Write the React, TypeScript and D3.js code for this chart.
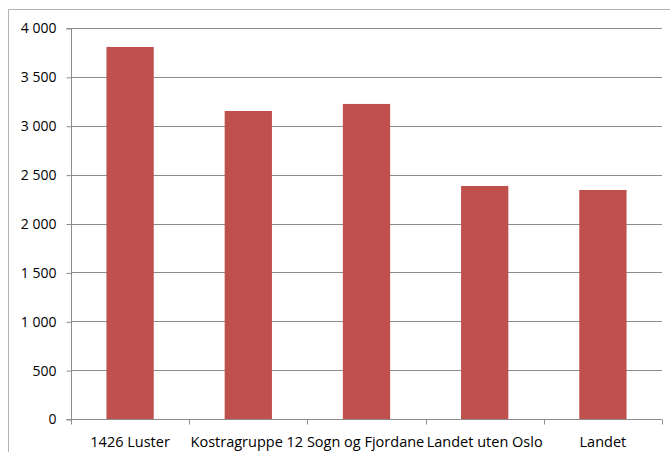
import React, { useRef, useEffect } from "react"
import * as d3 from "d3"

const categories = ["1426 Luster", "Kostragruppe 12", "Sogn og Fjordane", "Landet uten Oslo", "Landet"]
const values = [3806, 3151, 3223, 2384, 2343]
const yTicks = [0, 500, 1000, 1500, 2000, 2500, 3000, 3500, 4000]

const W = 670
const H = 452

const App: React.FunctionComponent = () => {
	const svgRef = useRef<any>()

	useEffect(() => {
		const svg = d3.select(svgRef.current)
		svg.selectAll("*").remove()

		const left = 71
		const right = 662
		const top = 28
		const bottom = 419

		const x = d3.scaleBand().domain(categories).range([left, right]).paddingInner(0.6).paddingOuter(0.3)
		const xOuter = d3.scaleBand().domain(categories).range([left, right])
		const y = d3.scaleLinear().domain([0, 4000]).range([bottom, top])
		const fmt = (v: number) => d3.format(",")(v).replace(",", " ")

		// chart frame (partly cropped)
		svg.append("path")
			.attr("d", `M8.5,${H} V9.5 H${W}`)
			.attr("fill", "none")
			.attr("stroke", "#b3b3b3")
			.attr("stroke-width", 1)

		// gridlines
		svg.append("g")
			.selectAll("line")
			.data(yTicks.filter((t) => t > 0))
			.join("line")
			.attr("x1", left)
			.attr("x2", right)
			.attr("y1", (d) => Math.round(y(d)) + 0.5)
			.attr("y2", (d) => Math.round(y(d)) + 0.5)
			.attr("stroke", "#8c8c8c")

		// bars
		svg.append("g")
			.selectAll("rect")
			.data(values)
			.join("rect")
			.attr("x", (d, i) => x(categories[i])!)
			.attr("width", x.bandwidth())
			.attr("y", (d) => y(d))
			.attr("height", (d) => y(0) - y(d))
			.attr("fill", "#c0504d")

		// y axis
		const yAxis = d3.axisLeft(y).tickValues(yTicks).tickSize(5).tickPadding(10).tickFormat((d) => fmt(+d))
		const gy = svg.append("g").attr("transform", `translate(${left + 0.5},0.5)`).call(yAxis)
		gy.select(".domain").attr("stroke", "#8c8c8c").attr("d", `M-5,${top}H0V${bottom}H-5`)
		gy.selectAll(".tick line").attr("stroke", "#8c8c8c")
		gy.selectAll("text")
			.attr("font-family", "'Open Sans', sans-serif")
			.attr("font-size", 14)
			.attr("fill", "#000")

		// x axis
		const gx = svg.append("g").attr("transform", `translate(0,${bottom + 0.5})`)
		gx.append("line").attr("x1", left).attr("x2", right).attr("stroke", "#8c8c8c")
		gx.selectAll(".xt")
			.data([...categories.map((c) => xOuter(c)!), right])
			.join("line")
			.attr("class", "xt")
			.attr("x1", (d) => Math.round(d) + 0.5)
			.attr("x2", (d) => Math.round(d) + 0.5)
			.attr("y1", 0)
			.attr("y2", 5)
			.attr("stroke", "#8c8c8c")

		const labels = ["1426 Luster", "Kostragruppe 12 Sogn og Fjordane", "Landet uten Oslo", "Landet"]
		const labelX = [
			xOuter(categories[0])! + xOuter.bandwidth() / 2,
			xOuter(categories[2])!,
			xOuter(categories[3])! + xOuter.bandwidth() / 2,
			xOuter(categories[4])! + xOuter.bandwidth() / 2,
		]
		gx.selectAll("text")
			.data(labels)
			.join("text")
			.attr("x", (d, i) => labelX[i])
			.attr("y", 27)
			.attr("text-anchor", "middle")
			.attr("font-family", "'Open Sans', sans-serif")
			.attr("font-size", 14.5)
			.attr("fill", "#000")
			.text((d) => d)
	}, [])

	return (
		<svg
			ref={svgRef}
			width={W}
			height={H}
			style={{ position: "absolute", left: 0, top: 0, background: "#fff" }}
		></svg>
	)
}

export default App
